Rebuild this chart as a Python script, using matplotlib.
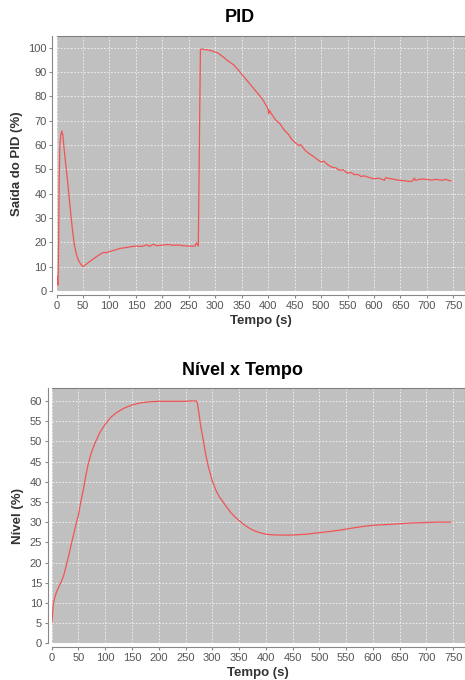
import matplotlib.pyplot as plt

plt.rcParams['font.family'] = ['Liberation Sans', 'DejaVu Sans']

# PID output (%) vs time (s)
pid_t = [0, 1, 2, 3, 4, 5, 6.5, 8, 10, 12, 15, 18, 21, 25, 28, 31, 34, 37, 41, 45, 50,
         55, 62, 70, 76, 82, 88, 95, 101, 110, 120, 130, 140, 151, 160, 170, 176, 183,
         190, 200, 210, 221, 230, 240, 246, 255, 262, 264, 268, 270, 272, 274, 280, 290,
         297, 305, 310, 316, 322, 328, 335, 343, 351, 359, 367, 375, 383, 390, 398, 400,
         401, 403, 405, 414, 422, 430, 438, 445, 453, 458, 461, 470, 477, 483, 492, 500, 505,
         512, 520, 528, 535, 542, 550, 557, 563, 570, 575, 582, 590, 600, 608, 615, 620,
         622, 630, 640, 651, 660, 667, 673, 676, 679, 685, 692, 701, 710, 716, 723, 730,
         735, 742, 745]
pid_v = [0, 6, 3, 2.5, 20, 45, 60, 64, 65.8, 64, 57, 51, 45, 36, 29.5, 23.5, 18.8, 15.5, 12.8, 11.3, 10,
         10.8, 12, 13.2, 14.2, 15, 15.8, 15.8, 16.3, 16.8, 17.5, 17.8, 18.2, 18.5, 18.3, 18.9, 18.4, 19.2,
         18.6, 18.9, 19.1, 18.8, 18.9, 18.6, 18.5, 18.4, 18.5, 19.8, 18.5, 60, 99.2, 99.5, 99.2, 98.9,
         98.4, 97.8, 97, 96, 94.9, 94, 92.9, 91, 88.8, 86.8, 84.7, 82.6, 80.5, 78.6, 75.6, 74.6,
         72.8, 74.2, 73.2, 70.3, 68.8, 66.2, 64.5, 62.2, 60.6, 59.8, 60.2, 57.8, 56.5, 55.7, 54.2, 53, 53.4,
         52, 50.9, 50.6, 49.6, 49.8, 48.4, 48.7, 47.8, 47.9, 47.1, 47.3, 46.7, 46.1, 46.4, 45.9, 45.5,
         46.6, 46.2, 45.8, 45.4, 45.3, 45.0, 45.2, 46.4, 45.4, 45.9, 46.0, 45.8, 45.6, 45.9, 45.7, 45.5,
         45.9, 45.4, 45.3]

# Level (%) vs time (s)
lvl_t = [0.5, 2, 3, 6, 9, 14, 19, 24, 28, 32, 37, 42, 46, 50, 54, 59, 63, 68, 74, 81, 90,
         100, 110, 121, 135, 150, 165, 184, 200, 250, 260, 270, 272, 275, 278, 283, 288,
         293, 300, 307, 313, 320, 328, 335, 342, 350, 360, 368, 376, 388, 400, 413, 426,
         450, 475, 501, 520, 538, 560, 580, 600, 625, 650, 675, 700, 720, 745]
lvl_v = [5.2, 8, 9.8, 11.5, 12.7, 14.2, 15.6, 17.5, 19.7, 21.8, 24.8, 27.5, 29.8, 31.8, 34.8,
         38, 41, 44.3, 47.2, 49.6, 52.2, 54.2, 55.9, 57.1, 58.2, 59, 59.5, 59.8, 59.9, 59.9,
         60, 60, 59.5, 57, 54, 50.4, 46.5, 43.5, 40.2, 37.8, 36.3, 35, 33.5, 32.3, 31.3, 30.4,
         29.3, 28.6, 28, 27.4, 27, 26.85, 26.8, 26.8, 27.0, 27.4, 27.7, 28, 28.5, 28.9, 29.2,
         29.4, 29.6, 29.8, 29.9, 30, 30]

x_ticks = list(range(0, 751, 50))

fig = plt.figure(figsize=(4.65, 6.8), dpi=100)


def style_axes(ax, xmax, ymax, yticks):
    ax.set_facecolor('#c0c0c0')
    ax.set_xlim(0, xmax)
    ax.set_ylim(0, ymax)
    ax.set_xticks(x_ticks)
    ax.set_yticks(yticks)
    ax.grid(True, color='#f4f4f4', linestyle=(0, (2, 2)), linewidth=0.6)
    ax.set_axisbelow(True)
    for side in ['left', 'bottom']:
        ax.spines[side].set_position(('outward', 3))
        ax.spines[side].set_color('#888888')
    for side in ['top', 'right']:
        ax.spines[side].set_color('#808080')
    ax.tick_params(length=2, width=0.8, color='#888888', labelsize=8,
                   labelcolor='#555555', pad=2)


# top chart
ax1 = fig.add_axes([56.5 / 465, 1 - 291 / 680, (465 - 56.5) / 465, (291 - 36) / 680])
ax1.plot(pid_t, pid_v, color='#f05555', linewidth=0.9)
style_axes(ax1, 772, 104.8, range(0, 101, 10))
ax1.set_xlabel('Tempo (s)', fontsize=9.5, fontweight='bold', color='#333333', labelpad=3)
ax1.set_ylabel('Saída do PID (%)', fontsize=9.5, fontweight='bold', color='#333333', labelpad=4)
fig.text(240 / 465, 1 - 18 / 680, 'PID', fontsize=13, fontweight='bold',
         ha='center', va='center')

# bottom chart
ax2 = fig.add_axes([51.7 / 465, 1 - 643.3 / 680, (465 - 51.7) / 465, (643.3 - 388) / 680])
ax2.plot(lvl_t, lvl_v, color='#f05555', linewidth=0.9)
style_axes(ax2, 772, 63.2, range(0, 61, 5))
ax2.set_xlabel('Tempo (s)', fontsize=9.5, fontweight='bold', color='#333333', labelpad=3)
ax2.set_ylabel('Nível (%)', fontsize=9.5, fontweight='bold', color='#333333', labelpad=4)
fig.text(242 / 465, 1 - 371 / 680, 'Nível x Tempo', fontsize=13, fontweight='bold',
         ha='center', va='center')

fig.savefig('out.png', dpi=100)
